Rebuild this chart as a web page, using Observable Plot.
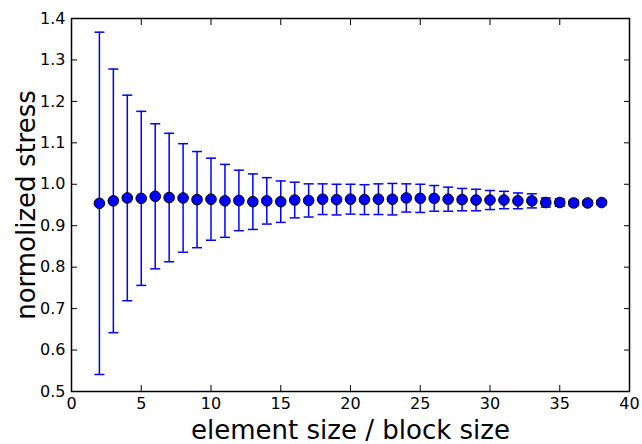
<!DOCTYPE html>
<html>
<head>
<meta charset="utf-8">
<script src="https://cdn.jsdelivr.net/npm/d3@7"></script>
<script src="https://cdn.jsdelivr.net/npm/@observablehq/plot@0.6"></script>
<style>
  html, body { margin: 0; padding: 0; background: #fff; }
  svg { display: block; }
</style>
</head>
<body>
<div id="chart"></div>
<script>
const sizes = [2, 3, 4, 5, 6, 7, 8, 9, 10, 11, 12, 13, 14, 15, 16, 17, 18, 19, 20,
               21, 22, 23, 24, 25, 26, 27, 28, 29, 30, 31, 32, 33, 34, 35, 36, 37, 38];
const means = [0.954, 0.960, 0.967, 0.966, 0.971, 0.968, 0.967, 0.963, 0.964, 0.960,
               0.961, 0.958, 0.960, 0.958, 0.962, 0.961, 0.964, 0.963, 0.964, 0.963,
               0.964, 0.964, 0.967, 0.966, 0.966, 0.964, 0.963, 0.962, 0.962, 0.962,
               0.960, 0.960, 0.956, 0.956, 0.955, 0.955, 0.956];
const errs  = [0.413, 0.318, 0.248, 0.210, 0.175, 0.155, 0.131, 0.116, 0.099, 0.088,
               0.073, 0.067, 0.056, 0.050, 0.043, 0.040, 0.037, 0.037, 0.036, 0.036,
               0.037, 0.038, 0.034, 0.034, 0.031, 0.029, 0.027, 0.026, 0.023, 0.021,
               0.019, 0.017, 0.011, 0.009, 0.007, 0.006, 0.005];
const xTicks = [0, 5, 10, 15, 20, 25, 30, 35, 40];
const yTicks = [0.5, 0.6, 0.7, 0.8, 0.9, 1.0, 1.1, 1.2, 1.3, 1.4];
const xLabel = "element size / block size";
const yLabel = "normolized stress";

const data = sizes.map((x, i) => ({x, mean: means[i], lo: means[i] - errs[i], hi: means[i] + errs[i]}));

const cap = {
  draw(context, size) {
    const w = Math.sqrt(size / Math.PI);
    context.moveTo(-w, 0);
    context.lineTo(w, 0);
  }
};

const font = "DejaVu Sans, sans-serif";

const chart = Plot.plot({
  width: 642,
  height: 444,
  marginLeft: 71,
  marginRight: 13,
  marginTop: 18,
  marginBottom: 53,
  style: {fontFamily: font, fontSize: "16px", color: "#000", background: "#fff"},
  x: {domain: [0, 40]},
  y: {domain: [0.5, 1.4]},
  marks: [
    Plot.ruleX(data, {x: "x", y1: "lo", y2: "hi", stroke: "#0000ff", strokeWidth: 1.5}),
    Plot.dot(data, {x: "x", y: "lo", symbol: cap, r: 5, stroke: "#0000ff", fill: "none", strokeWidth: 1.5}),
    Plot.dot(data, {x: "x", y: "hi", symbol: cap, r: 5, stroke: "#0000ff", fill: "none", strokeWidth: 1.5}),
    Plot.dot(data, {x: "x", y: "mean", r: 5.3, fill: "#0000ff", stroke: "#000", strokeWidth: 1}),
    Plot.axisX(xTicks, {anchor: "bottom", tickSize: -6, tickPadding: 12, tickFormat: d => String(d), label: null, fontSize: 16, strokeWidth: 1}),
    Plot.axisX(xTicks, {anchor: "top", tickSize: -6, fill: "none", label: null, strokeWidth: 1}),
    Plot.axisY(yTicks, {anchor: "left", tickSize: -6, tickPadding: 12, tickFormat: d => d.toFixed(1), label: null, fontSize: 16, strokeWidth: 1}),
    Plot.axisY(yTicks, {anchor: "right", tickSize: -6, fill: "none", label: null, strokeWidth: 1}),
    Plot.frame({stroke: "#000", strokeWidth: 1.5}),
    Plot.text([xLabel], {text: d => d, frameAnchor: "bottom", dy: 47, fontSize: 26, fill: "#000"}),
    Plot.text([yLabel], {text: d => d, frameAnchor: "left", textAnchor: "middle", dx: -45, rotate: -90, fontSize: 26, fill: "#000"})
  ]
});
document.getElementById("chart").appendChild(chart);
</script>
</body>
</html>
